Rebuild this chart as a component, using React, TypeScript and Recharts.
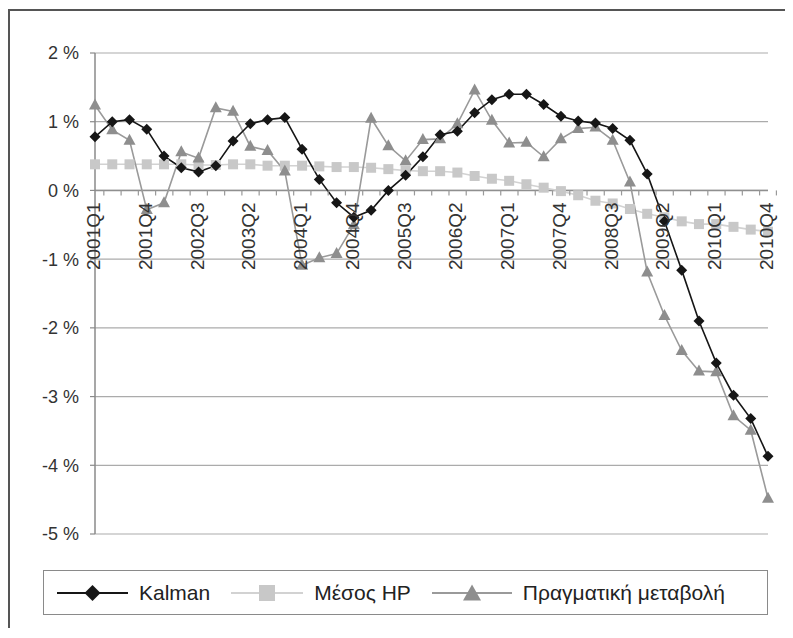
import React from 'react';
import { LineChart, Line, XAxis, YAxis, CartesianGrid, ReferenceLine, Legend } from 'recharts';

const quarters = [
  '2001Q1', '2001Q2', '2001Q3', '2001Q4', '2002Q1', '2002Q2', '2002Q3', '2002Q4',
  '2003Q1', '2003Q2', '2003Q3', '2003Q4', '2004Q1', '2004Q2', '2004Q3', '2004Q4',
  '2005Q1', '2005Q2', '2005Q3', '2005Q4', '2006Q1', '2006Q2', '2006Q3', '2006Q4',
  '2007Q1', '2007Q2', '2007Q3', '2007Q4', '2008Q1', '2008Q2', '2008Q3', '2008Q4',
  '2009Q1', '2009Q2', '2009Q3', '2009Q4', '2010Q1', '2010Q2', '2010Q3', '2010Q4',
];

const kalman = [
  0.78, 1.0, 1.03, 0.89, 0.5, 0.33, 0.27, 0.36, 0.72, 0.97,
  1.03, 1.06, 0.6, 0.16, -0.18, -0.39, -0.29, 0.0, 0.22, 0.49,
  0.81, 0.86, 1.13, 1.32, 1.4, 1.4, 1.25, 1.08, 1.01, 0.98,
  0.9, 0.73, 0.24, -0.45, -1.16, -1.9, -2.51, -2.98, -3.32, -3.87,
];

const hpMean = [
  0.38, 0.38, 0.38, 0.38, 0.38, 0.38, 0.37, 0.37, 0.38, 0.38,
  0.36, 0.36, 0.36, 0.35, 0.34, 0.34, 0.33, 0.31, 0.29, 0.28,
  0.28, 0.26, 0.21, 0.17, 0.14, 0.09, 0.04, -0.01, -0.07, -0.15,
  -0.19, -0.27, -0.34, -0.39, -0.45, -0.49, -0.49, -0.53, -0.57, -0.6,
];

const actual = [
  1.24, 0.88, 0.73, -0.28, -0.18, 0.56, 0.47, 1.2, 1.15, 0.64,
  0.58, 0.28, -1.09, -0.98, -0.92, -0.5, 1.05, 0.65, 0.43, 0.74,
  0.75, 0.97, 1.46, 1.02, 0.69, 0.7, 0.49, 0.75, 0.9, 0.92,
  0.73, 0.12, -1.19, -1.82, -2.33, -2.63, -2.64, -3.28, -3.49, -4.48,
];

const shownTicks = [
  '2001Q1', '2001Q4', '2002Q3', '2003Q2', '2004Q1', '2004Q4', '2005Q3',
  '2006Q2', '2007Q1', '2007Q4', '2008Q3', '2009Q2', '2010Q1', '2010Q4',
];

const yTicks = [2, 1, 0, -1, -2, -3, -4, -5];
const seriesNames = ['Kalman', 'Μέσος HP', 'Πραγματική μεταβολή'];

const data = quarters.map((q, i) => ({ q, kalman: kalman[i], hp: hpMean[i], actual: actual[i] }));

const W = 780;
const H = 618;
const M = { top: 42, right: 22, left: 0, bottom: 0 };
const YW = 85;
const XH = 95;
const PLOT_H = H - M.top - M.bottom - XH;
const PLOT_W = W - M.left - M.right - YW;
const Y_MIN = -5;
const Y_MAX = 2;
const BAND = PLOT_W / quarters.length;
const FONT = '"Liberation Sans", Arial, Helvetica, sans-serif';

const C_KALMAN = '#161616';
const C_HP_LINE = '#d2d2d2';
const C_HP_DOT = '#c8c8c8';
const C_ACT_LINE = '#9a9a9a';
const C_ACT_DOT = '#8e8e8e';

const XTick = (props: any) => {
  const { x, y, payload, index } = props;
  const zeroY = y - (PLOT_H * (0 - Y_MIN)) / (Y_MAX - Y_MIN);
  const label = payload.value as string;
  const left = x - BAND / 2;
  const right = x + BAND / 2;
  return (
    <g>
      {index > 0 && <line x1={left} x2={left} y1={zeroY} y2={zeroY + 5} stroke="#999" strokeWidth={1.2} />}
      {index === quarters.length - 1 && (
        <line x1={right} x2={right} y1={zeroY} y2={zeroY + 5} stroke="#999" strokeWidth={1.2} />
      )}
      {shownTicks.includes(label) && (
        <text
          transform={`translate(${x + 5},${zeroY + 12}) rotate(-90)`}
          textAnchor="end"
          fontSize={19}
          fill="#333"
          fontFamily={FONT}
        >
          {label}
        </text>
      )}
    </g>
  );
};

const diamondPath = (cx: number, cy: number, r: number) =>
  `M${cx},${cy - r}L${cx + r},${cy}L${cx},${cy + r}L${cx - r},${cy}Z`;
const trianglePath = (cx: number, cy: number, w: number, h: number) =>
  `M${cx},${cy - h * 0.6}L${cx + w / 2},${cy + h * 0.4}L${cx - w / 2},${cy + h * 0.4}Z`;

const DiamondDot = (p: any) => {
  if (p.cx == null || p.cy == null) return <g key={p.index} />;
  return <path key={p.index} d={diamondPath(p.cx, p.cy, 5.5)} fill={C_KALMAN} />;
};
const SquareDot = (p: any) => {
  if (p.cx == null || p.cy == null) return <g key={p.index} />;
  return <rect key={p.index} x={p.cx - 5} y={p.cy - 5} width={10} height={10} fill={C_HP_DOT} />;
};
const TriangleDot = (p: any) => {
  if (p.cx == null || p.cy == null) return <g key={p.index} />;
  return <path key={p.index} d={trianglePath(p.cx, p.cy, 12, 11)} fill={C_ACT_DOT} />;
};

const legendIcons = [
  (w: number) => (
    <svg width={w} height={20}>
      <line x1={0} x2={w} y1={10} y2={10} stroke={C_KALMAN} strokeWidth={2} />
      <path d={diamondPath(w / 2, 10, 8)} fill={C_KALMAN} />
    </svg>
  ),
  (w: number) => (
    <svg width={w} height={20}>
      <line x1={0} x2={w} y1={10} y2={10} stroke={C_HP_LINE} strokeWidth={2} />
      <rect x={w / 2 - 8} y={2} width={16} height={16} fill={C_HP_DOT} />
    </svg>
  ),
  (w: number) => (
    <svg width={w} height={20}>
      <line x1={0} x2={w} y1={10} y2={10} stroke={C_ACT_LINE} strokeWidth={2} />
      <path d={trianglePath(w / 2, 11, 18, 16)} fill={C_ACT_DOT} />
    </svg>
  ),
];
const legendIconWidths = [71, 72, 80];

const LegendBox = () => (
  <div
    style={{
      boxSizing: 'border-box',
      width: '100%',
      height: '100%',
      border: '1.5px solid #8a8a8a',
      display: 'flex',
      alignItems: 'center',
      paddingLeft: 13,
      fontFamily: FONT,
      fontSize: 21,
      color: '#222',
      whiteSpace: 'nowrap',
    }}
  >
    {seriesNames.map((name, i) => (
      <div key={name} style={{ display: 'flex', alignItems: 'center', marginRight: 21 }}>
        {legendIcons[i](legendIconWidths[i])}
        <span style={{ marginLeft: 11 }}>{name}</span>
      </div>
    ))}
  </div>
);

export default function App() {
  return (
    <div
      style={{
        position: 'relative',
        top: 1,
        width: W,
        height: H,
        borderLeft: '2px solid #555',
        borderTop: '2px solid #555',
        background: '#fff',
      }}
    >
      <LineChart width={W} height={H} data={data} margin={M}>
        <CartesianGrid yAxisId="l" vertical={false} stroke="#ababab" strokeWidth={1.2} />
        <XAxis
          dataKey="q"
          height={XH}
          interval={0}
          tick={<XTick />}
          tickLine={false}
          tickSize={0}
          tickMargin={0}
          axisLine={false}
        />
        <YAxis
          yAxisId="l"
          width={YW}
          domain={[Y_MIN, Y_MAX]}
          ticks={yTicks}
          tickFormatter={(v: number) => `${v} %`}
          tick={{ fontSize: 18, fill: '#333', fontFamily: FONT }}
          tickSize={5}
          tickMargin={11}
          axisLine={{ stroke: '#8a8a8a', strokeWidth: 1.5 }}
          tickLine={{ stroke: '#8a8a8a', strokeWidth: 1.2 }}
          allowDataOverflow
        />
        <YAxis
          yAxisId="r"
          orientation="right"
          width={0}
          domain={[Y_MIN, Y_MAX]}
          ticks={yTicks}
          tick={false}
          tickLine={false}
          axisLine={{ stroke: '#8a8a8a', strokeWidth: 1.5 }}
        />
        <ReferenceLine yAxisId="l" y={0} stroke="#8f8f8f" strokeWidth={1.6} />
        <Line
          yAxisId="l"
          type="linear"
          dataKey="hp"
          stroke={C_HP_LINE}
          strokeWidth={1.6}
          dot={(p: any) => <SquareDot key={p.index} {...p} />}
          activeDot={false}
          isAnimationActive={false}
        />
        <Line
          yAxisId="l"
          type="linear"
          dataKey="actual"
          stroke={C_ACT_LINE}
          strokeWidth={1.6}
          dot={(p: any) => <TriangleDot key={p.index} {...p} />}
          activeDot={false}
          isAnimationActive={false}
        />
        <Line
          yAxisId="l"
          type="linear"
          dataKey="kalman"
          stroke={C_KALMAN}
          strokeWidth={1.6}
          dot={(p: any) => <DiamondDot key={p.index} {...p} />}
          activeDot={false}
          isAnimationActive={false}
        />
        <Legend
          layout="horizontal"
          verticalAlign="middle"
          align="center"
          content={<LegendBox />}
          wrapperStyle={{ left: 33, top: 559, width: 725, height: 45 }}
        />
      </LineChart>
    </div>
  );
}
